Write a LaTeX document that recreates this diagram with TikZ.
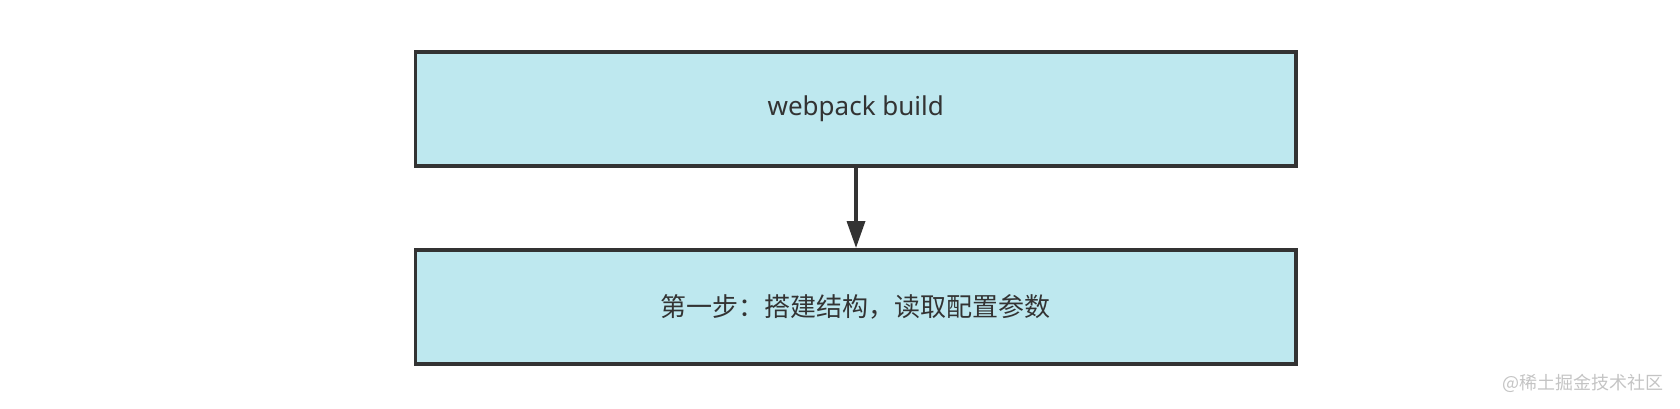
\documentclass[tikz,border=0pt]{standalone}
\usepackage{fontspec}
\setmainfont{Noto Sans}
\newfontfamily\cjk{Noto Sans CJK SC}
\usetikzlibrary{arrows.meta}
\definecolor{boxfill}{RGB}{190,232,239}
\definecolor{boxline}{RGB}{51,51,51}
\definecolor{wm}{RGB}{196,196,196}
\tikzset{
  stepbox/.style={draw=boxline, fill=boxfill, line width=3.5pt, minimum width=880.5pt, minimum height=114pt, inner sep=0pt, text=boxline, font=\fontsize{26}{30}\selectfont},
  conn/.style={draw=boxline, line width=3.5pt, -{Triangle[length=27pt,width=18pt]}}
}
\begin{document}
\begin{tikzpicture}[x=1pt,y=-1pt]
\useasboundingbox (0,0) rectangle (1680,408);
\node[stepbox] (a) at (855.75,109) {\raisebox{-2pt}{webpack build}};
\node[stepbox] (b) at (855.75,306.75) {\cjk 第一步：搭建结构，读取配置参数};
\draw[conn] (a.south -| 856,0) -- (b.north -| 856,0);
\node[text=wm, font=\cjk\fontsize{18}{21}\selectfont, anchor=east] (w) at (1667,383) {@稀土掘金技术社区};
\end{tikzpicture}
\end{document}
